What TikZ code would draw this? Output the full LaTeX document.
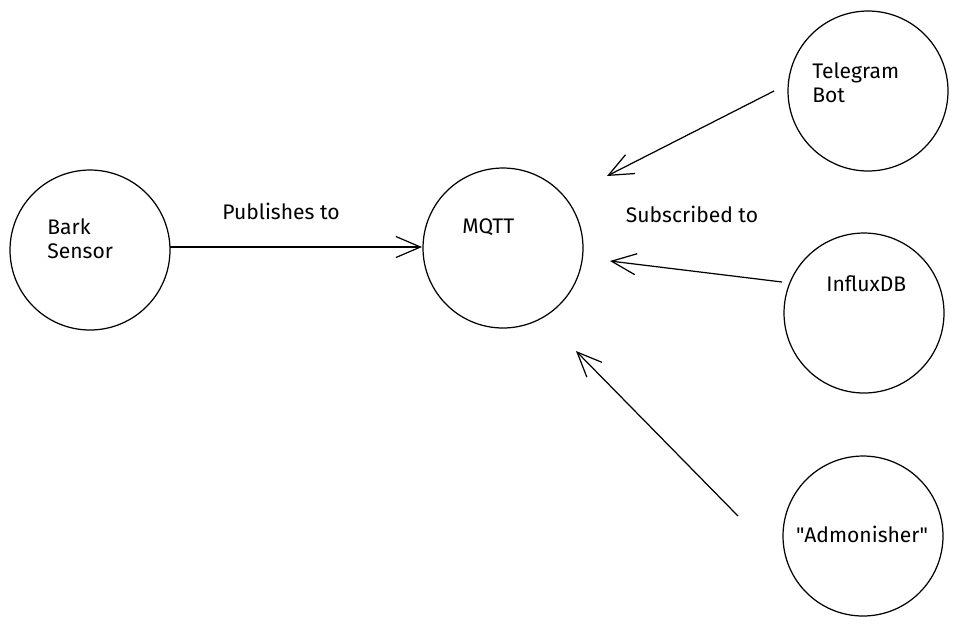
\documentclass[tikz,border=0pt]{standalone}
\usepackage{fontspec}
\setmainfont{Fira Sans}
\usepackage{tikz}
\usetikzlibrary{arrows.meta,positioning,calc}

\begin{document}
\begin{tikzpicture}[x=0.02cm, y=-0.02cm,
    bubble/.style={circle, draw=black, line width=0.7pt, minimum size=3.2cm, inner sep=0pt},
    lbl/.style={font=\fontsize{12}{13.6}\selectfont, inner sep=0pt, align=left},
    flow/.style={-{Straight Barb[length=14pt, width=12pt, line width=0.7pt]}, line width=0.7pt}]
    \useasboundingbox (0,0) rectangle (959,627);

    \node[bubble] (bark) at (90,250) {};
    \node[bubble] (mqtt) at (503,248) {};
    \node[bubble] (tele) at (868,91) {};
    \node[bubble] (influx) at (864,313) {};
    \node[bubble] (admon) at (863,536) {};

    \node[lbl, anchor=west] (barklbl) at (47,239) {Bark\\Sensor};
    \node[lbl, anchor=west] (mqttlbl) at (462,227) {MQTT};
    \node[lbl, anchor=west] (telelbl) at (812,83) {Telegram\\Bot};
    \node[lbl, anchor=west] (influxlbl) at (826,284) {InfluxDB};
    \node[lbl] (admonlbl) at (862,534) {\textquotedbl Admonisher\textquotedbl};

    \node[lbl] (pubto) at (281,211) {Publishes to};
    \node[lbl] (subto) at (692,214) {Subscribed to};

    \coordinate (bark-out) at ($(bark.center)+(80,-3)$);
    \coordinate (mqtt-in1) at ($(mqtt.center)+(-81,-1)$);
    \coordinate (tele-out) at ($(tele.center)+(-94,0)$);
    \coordinate (mqtt-in2) at ($(mqtt.center)+(104,-72)$);
    \coordinate (influx-out) at ($(influx.center)+(-82,-31)$);
    \coordinate (mqtt-in3) at ($(mqtt.center)+(107,13)$);
    \coordinate (admon-out) at ($(admon.center)+(-125,-20)$);
    \coordinate (mqtt-in4) at ($(mqtt.center)+(73,103)$);

    \draw[flow] (bark-out) -- (mqtt-in1);
    \draw[flow] (tele-out) -- (mqtt-in2);
    \draw[flow] (influx-out) -- (mqtt-in3);
    \draw[flow] (admon-out) -- (mqtt-in4);
\end{tikzpicture}
\end{document}
